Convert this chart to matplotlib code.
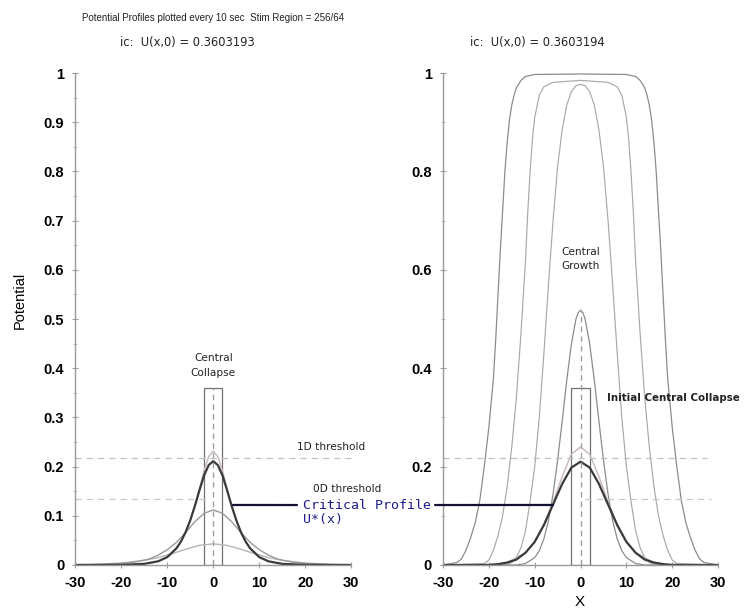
import matplotlib.pyplot as plt
from matplotlib.patches import Rectangle, ConnectionPatch
from matplotlib.ticker import MultipleLocator

# ---- data ----
# left panel: ic U(x,0) = 0.3603193 -> collapse
crit_l_x = [-30, -20, -15, -12, -10, -8, -7, -6, -5, -4, -3, -2, -1, 0, 1, 2, 3, 4, 5, 6, 7, 8, 10, 12, 15, 20, 30]
crit_l_y = [0, 0.0003, 0.0023, 0.0075, 0.016, 0.034, 0.048, 0.067, 0.091, 0.120, 0.152, 0.182, 0.203, 0.211,
            0.203, 0.182, 0.152, 0.120, 0.091, 0.067, 0.048, 0.034, 0.016, 0.0075, 0.0023, 0.0003, 0]
spike_l_x = [-4, -3, -2, -1, 0, 1, 2, 3, 4]
spike_l_y = [0.120, 0.155, 0.192, 0.220, 0.232, 0.220, 0.192, 0.155, 0.120]
decay1_x = [-30, -25, -20, -17, -14, -12, -10, -8, -6, -4, -2, 0, 2, 4, 6, 8, 10, 12, 14, 17, 20, 25, 30]
decay1_y = [0, 0.0008, 0.003, 0.006, 0.012, 0.020, 0.031, 0.046, 0.066, 0.088, 0.105, 0.112,
            0.105, 0.088, 0.066, 0.046, 0.031, 0.020, 0.012, 0.006, 0.003, 0.0008, 0]
decay2_x = [-30, -25, -20, -15, -12, -9, -6, -3, 0, 3, 6, 9, 12, 15, 20, 25, 30]
decay2_y = [0.0006, 0.0016, 0.004, 0.0095, 0.015, 0.023, 0.032, 0.040, 0.043,
            0.040, 0.032, 0.023, 0.015, 0.0095, 0.004, 0.0016, 0.0006]

# right panel: ic U(x,0) = 0.3603194 -> growth
crit_r_x = [-30, -20, -18, -16, -14, -12, -10, -8, -6, -4, -2, 0, 2, 4, 6, 8, 10, 12, 14, 16, 18, 20, 30]
crit_r_y = [0, 0, 0.0017, 0.005, 0.011, 0.025, 0.047, 0.081, 0.123, 0.165, 0.198, 0.210,
            0.198, 0.165, 0.123, 0.081, 0.047, 0.025, 0.011, 0.005, 0.0017, 0, 0]
near_r_x = [-30, -20, -16, -12, -10, -8, -6, -4, -2, 0, 2, 4, 6, 8, 10, 12, 16, 20, 30]
near_r_y = [0, 0, 0.005, 0.025, 0.048, 0.083, 0.128, 0.180, 0.225, 0.240,
            0.225, 0.180, 0.128, 0.083, 0.048, 0.025, 0.005, 0, 0]
grow1_x = [-30, -14, -12, -10, -9, -8, -7, -6, -5, -4, -3, -2, -1, -0.5, 0, 0.5, 1, 2, 3, 4, 5, 6, 7, 8, 9, 10, 12, 14, 30]
grow1_y = [0, 0, 0.003, 0.015, 0.029, 0.053, 0.090, 0.144, 0.213, 0.293, 0.376, 0.449, 0.500, 0.513, 0.518,
           0.513, 0.500, 0.449, 0.376, 0.293, 0.213, 0.144, 0.090, 0.053, 0.029, 0.015, 0.003, 0, 0]
grow2_x = [-30, -16, -15, -14, -13, -12, -11, -10, -9, -8, -7, -6, -5, -4, -3, -2, -1, 0,
           1, 2, 3, 4, 5, 6, 7, 8, 9, 10, 11, 12, 13, 14, 15, 16, 30]
grow2_y = [0, 0.002, 0.005, 0.015, 0.035, 0.07, 0.13, 0.20, 0.30, 0.43, 0.57, 0.70, 0.81, 0.885, 0.935, 0.962, 0.974, 0.977,
           0.974, 0.962, 0.935, 0.885, 0.81, 0.70, 0.57, 0.43, 0.30, 0.20, 0.13, 0.07, 0.035, 0.015, 0.005, 0.002, 0]
grow3_x = [-30, -21, -20, -19, -18, -17, -16, -15, -14, -13, -12, -11.5, -11, -10.5, -10, -9, -8, -6, 0,
           6, 8, 9, 10, 10.5, 11, 11.5, 12, 13, 14, 15, 16, 17, 18, 19, 20, 21, 30]
grow3_y = [0, 0.003, 0.01, 0.03, 0.06, 0.10, 0.16, 0.24, 0.34, 0.47, 0.62, 0.72, 0.80, 0.865, 0.91, 0.955, 0.972, 0.981, 0.985,
           0.981, 0.972, 0.955, 0.91, 0.865, 0.80, 0.72, 0.62, 0.47, 0.34, 0.24, 0.16, 0.10, 0.06, 0.03, 0.01, 0.003, 0]
grow4_x = [-30, -27, -26, -25, -24, -23, -22, -21, -20, -19, -18.5, -18, -17.5, -17, -16.5, -16, -15.5, -15, -14.5,
           -14, -13, -12, -10, 0,
           10, 12, 13, 14, 14.5, 15, 15.5, 16, 16.5, 17, 17.5, 18, 18.5, 19, 20, 21, 22, 23, 24, 25, 26, 27, 30]
grow4_y = [0, 0.005, 0.012, 0.03, 0.055, 0.085, 0.13, 0.20, 0.28, 0.38, 0.46, 0.55, 0.64, 0.72, 0.80, 0.86, 0.905, 0.935, 0.955,
           0.97, 0.985, 0.993, 0.997, 0.998,
           0.997, 0.993, 0.985, 0.97, 0.955, 0.935, 0.905, 0.86, 0.80, 0.72, 0.64, 0.55, 0.46, 0.38, 0.28, 0.20, 0.13, 0.085,
           0.055, 0.03, 0.012, 0.005, 0]

stim_half = 2.0
stim_height = 0.3603
thresh_1d = 0.217
thresh_0d = 0.134
xticks = [-30, -20, -10, 0, 10, 20, 30]

fig = plt.figure(figsize=(7.49, 6.12), dpi=100)
axL = fig.add_axes([0.1005, 0.0768, 0.3685, 0.8039])
axR = fig.add_axes([0.5915, 0.0768, 0.3672, 0.8039])

light = '#b5b5b5'

# left panel
axL.plot(decay2_x, decay2_y, color=light, lw=1)
axL.plot(decay1_x, decay1_y, color='#9a9a9a', lw=1)
axL.plot(spike_l_x, spike_l_y, color='#c8b8b8', lw=1)
axL.plot(crit_l_x, crit_l_y, color='#3a3a3a', lw=1.6)
axL.add_patch(Rectangle((-stim_half, 0), 2 * stim_half, stim_height, fill=False, ec='#707070', lw=0.9))
axL.plot([0, 0], [0, stim_height], color='#a0a0a0', lw=1, ls=(0, (4, 3)))
axL.plot([-30, 30], [thresh_1d, thresh_1d], color='#c0c0c0', lw=0.9, ls=(0, (5, 4)), clip_on=False)
axL.plot([-30, -1], [thresh_0d, thresh_0d], color='#c8c8c8', lw=0.9, ls=(0, (5, 4)))

# right panel
axR.plot(grow4_x, grow4_y, color='#8c8c8c', lw=0.9)
axR.plot(grow3_x, grow3_y, color='#a8a8a8', lw=0.85)
axR.plot(grow2_x, grow2_y, color='#a8a8a8', lw=0.85)
axR.plot(grow1_x, grow1_y, color='#8c8c8c', lw=0.9)
axR.plot(near_r_x, near_r_y, color='#c8b8b8', lw=1)
axR.plot(crit_r_x, crit_r_y, color='#3a3a3a', lw=1.6)
axR.add_patch(Rectangle((-stim_half, 0), 2 * stim_half, stim_height, fill=False, ec='#707070', lw=0.9))
axR.plot([0, 0], [0, max(grow1_y)], color='#a0a0a0', lw=1, ls=(0, (4, 3)))
axR.plot([-30, 27.5], [thresh_1d, thresh_1d], color='#c0c0c0', lw=0.9, ls=(0, (5, 4)))
axR.plot([1, 28.5], [thresh_0d, thresh_0d], color='#c8c8c8', lw=0.9, ls=(0, (5, 4)))

for ax in (axL, axR):
    ax.set_xlim(-30, 30)
    ax.set_ylim(0, 1.0)
    ax.set_xticks(xticks)
    ax.set_xticklabels([str(t) for t in xticks])
    for s in ('top', 'right'):
        ax.spines[s].set_visible(False)
    for s in ('left', 'bottom'):
        ax.spines[s].set_color('#9a9a9a')
        ax.spines[s].set_linewidth(1)
    ax.tick_params(which='major', direction='inout', length=4, color='#a0a0a0',
                   labelsize=10.5, pad=6)
    ax.tick_params(which='minor', direction='inout', length=2.5, color='#b0b0b0')
    for lab in ax.get_xticklabels() + ax.get_yticklabels():
        lab.set_fontweight('bold')
        lab.set_family('Liberation Sans')

axL.yaxis.set_major_locator(MultipleLocator(0.1))
axL.yaxis.set_minor_locator(MultipleLocator(0.05))
axR.yaxis.set_major_locator(MultipleLocator(0.2))
axR.yaxis.set_minor_locator(MultipleLocator(0.1))
for ax in (axL, axR):
    labs = ['0' if abs(v) < 1e-9 else ('1' if abs(v - 1) < 1e-9 else '%.1f' % v) for v in ax.get_yticks()]
    ax.set_yticks(ax.get_yticks())
    ax.set_yticklabels(labs, fontweight='bold', family='Liberation Sans')
    ax.set_ylim(0, 1.0)

small = dict(family='DejaVu Sans', color='#222222', fontsize=7.6)
fig.text(0.1095, 0.971, 'Potential Profiles plotted every 10 sec  Stim Region = 256/64', va='center',
         family='Liberation Sans', color='#222222', fontsize=7.0)
fig.text(0.160, 0.931, 'ic:  U(x,0) = 0.3603193', va='center', family='DejaVu Sans', color='#222222', fontsize=8.3)
fig.text(0.6275, 0.931, 'ic:  U(x,0) = 0.3603194', va='center', family='DejaVu Sans', color='#222222', fontsize=8.3)
fig.text(0.026, 0.51, 'Potential', rotation=90, ha='center', va='center',
         family='Liberation Sans', fontsize=10.5)
fig.text(0.774, 0.017, 'X', ha='center', va='center', family='Liberation Sans', fontsize=11)

axL.text(0, 0.406, 'Central\nCollapse', ha='center', va='center', linespacing=1.6, **small)
axL.text(18.2, 0.240, '1D threshold', ha='left', va='center', clip_on=False, **small)
axL.text(21.6, 0.154, '0D threshold', ha='left', va='center', clip_on=False, **small)
axR.text(0, 0.622, 'Central\nGrowth', ha='center', va='center', linespacing=1.6, **small)
axR.text(5.8, 0.340, 'Initial Central Collapse', ha='left', va='center', clip_on=False,
         family='DejaVu Sans', color='#222222', fontsize=7.4, fontweight='bold')

fig.text(0.4045, 0.1748, 'Critical Profile', ha='left', va='center',
         family='DejaVu Sans Mono', color='#1c1c8a', fontsize=9.5)
fig.text(0.4045, 0.1505, 'U*(x)', ha='left', va='center',
         family='DejaVu Sans Mono', color='#1c1c8a', fontsize=9.5)

y_link = 0.122
fig.add_artist(ConnectionPatch(xyA=(4.3, y_link), coordsA=axL.transData,
                               xyB=(0.3965, 0.1748), coordsB=fig.transFigure,
                               color='#111133', lw=1.6))
fig.add_artist(ConnectionPatch(xyA=(0.5808, 0.1748), coordsA=fig.transFigure,
                               xyB=(-6.0, y_link), coordsB=axR.transData,
                               color='#111133', lw=1.6))

fig.savefig('out.png', dpi=100)
